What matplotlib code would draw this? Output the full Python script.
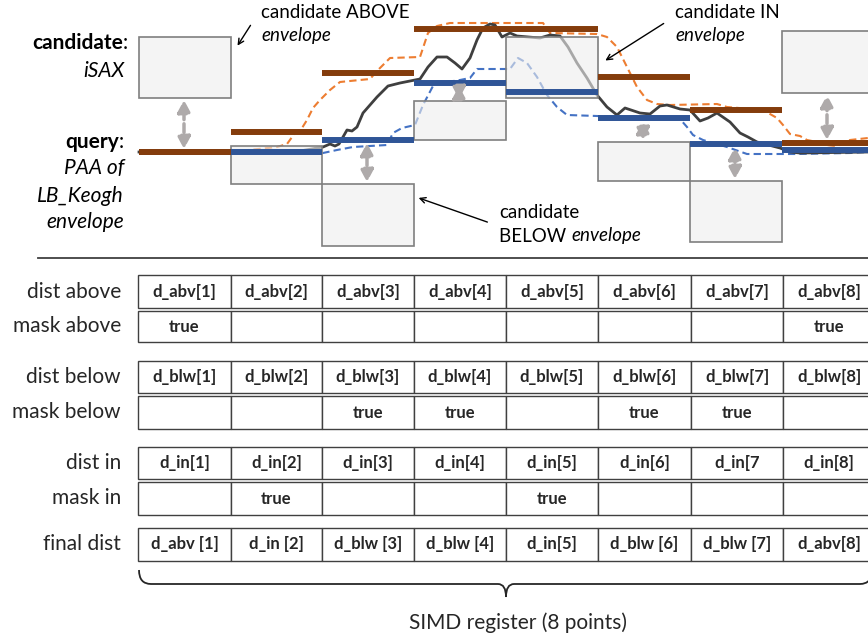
import numpy as np
import matplotlib.pyplot as plt
from matplotlib.patches import Rectangle, PathPatch
from matplotlib.path import Path

plt.rcParams['font.family'] = ['Lato', 'DejaVu Sans']

# --- top panel: 8 PAA segments (pixel-like units, y grows downward)
seg_edges = [139, 231, 322, 414, 506, 598, 690, 782, 874]
paa_upper = [152, 132, 73, 29, 29, 77, 110, 143]
paa_lower = [152, 152, 140, 83, 92, 118, 144, 150]
cand_top = [37, 146, 184, 101, 37, 142, 181, 31]
cand_bot = [98, 184, 246, 140, 98, 181, 242, 93]

series_x = [139, 300, 323, 330, 335, 339, 347, 352, 357, 363, 377, 388, 400, 420, 428, 437, 447,
            455, 462, 470, 477, 483, 490, 495, 502, 510, 517, 540, 550, 560, 568, 577, 587, 597,
            607, 617, 625, 640, 650, 660, 667, 680, 690, 700, 708, 717, 730, 740, 748, 757, 780,
            790, 800, 868]
series_y = [152, 151, 147, 144, 146, 144, 130, 131, 127, 113, 97, 86, 83, 79, 67, 57, 57,
            63, 69, 58, 40, 28, 24, 25, 37, 33, 36, 38, 35, 36, 47, 63, 78, 95,
            107, 115, 108, 113, 114, 106, 105, 109, 110, 121, 118, 113, 122, 133, 137, 142, 148,
            152, 153, 152]

upper_x = [139, 230, 277, 287, 295, 302, 307, 313, 320, 330, 340, 370, 377, 390, 420, 428, 437,
           450, 543, 550, 597, 607, 617, 627, 637, 647, 657, 670, 717, 727, 763, 777, 783, 790,
           800, 807, 817, 827, 837, 850, 868]
upper_y = [152, 152, 147, 144, 133, 128, 120, 108, 100, 90, 82, 79, 71, 58, 57, 33, 26,
           23, 23, 33, 34, 37, 47, 67, 87, 100, 104, 105, 104, 107, 110, 118, 125, 134,
           136, 140, 142, 145, 146, 140, 138]

lower_x = [139, 323, 337, 353, 387, 393, 402, 415, 423, 433, 440, 460, 470, 477, 510, 518, 527,
           537, 547, 557, 567, 597, 680, 687, 693, 703, 727, 747, 797, 850, 868]
lower_y = [153, 153, 150, 147, 145, 133, 128, 125, 105, 86, 83, 80, 78, 69, 69, 58, 63,
           77, 95, 107, 115, 116, 119, 127, 135, 140, 147, 154, 154, 153, 152]

# --- bottom table
col_edges = [138, 231, 322, 414, 506, 598, 691, 783, 875]
row_labels = ['dist above', 'mask above', 'dist below', 'mask below', 'dist in', 'mask in', 'final dist']
row_top = [275, 311, 361, 396, 447, 482, 528]
row_bot = [308, 342, 393, 429, 479, 515, 561]
cells = [
    ['d_abv[1]', 'd_abv[2]', 'd_abv[3]', 'd_abv[4]', 'd_abv[5]', 'd_abv[6]', 'd_abv[7]', 'd_abv[8]'],
    ['true', '', '', '', '', '', '', 'true'],
    ['d_blw[1]', 'd_blw[2]', 'd_blw[3]', 'd_blw[4]', 'd_blw[5]', 'd_blw[6]', 'd_blw[7]', 'd_blw[8]'],
    ['', '', 'true', 'true', '', 'true', 'true', ''],
    ['d_in[1]', 'd_in[2]', 'd_in[3]', 'd_in[4]', 'd_in[5]', 'd_in[6]', 'd_in[7', 'd_in[8]'],
    ['', 'true', '', '', 'true', '', '', ''],
    ['d_abv [1]', 'd_in [2]', 'd_blw [3]', 'd_blw [4]', 'd_in[5]', 'd_blw [6]', 'd_blw [7]', 'd_abv[8]'],
]

fig = plt.figure(figsize=(8.68, 6.36), dpi=100)
ax = fig.add_axes([0, 0, 1, 1])
ax.set_xlim(0, 868)
ax.set_ylim(636, 0)
ax.axis('off')

# envelopes and series
ax.plot(upper_x, upper_y, color='#ED7D31', lw=1.5, ls=(0, (3.5, 2)), zorder=1)
ax.plot(lower_x, lower_y, color='#4472C4', lw=1.5, ls=(0, (3.5, 2)), zorder=1)
ax.plot(series_x, series_y, color='#3F3F3F', lw=2.0, zorder=1)

# candidate boxes (semi transparent so lines show through)
for i in range(8):
    x0, x1 = seg_edges[i], seg_edges[i + 1]
    ax.add_patch(Rectangle((x0, cand_top[i]), x1 - x0, cand_bot[i] - cand_top[i],
                           facecolor=(0.93, 0.93, 0.93, 0.6), edgecolor='#7F7F7F', lw=1.2, zorder=2))

# PAA of the envelope
for i in range(8):
    x0, x1 = seg_edges[i], seg_edges[i + 1]
    ax.plot([x0, x1], [paa_lower[i], paa_lower[i]], color='#2F5597', lw=4.3,
            solid_capstyle='butt', zorder=3)
    ax.plot([x0, x1], [paa_upper[i], paa_upper[i]], color='#843C0C', lw=4.3,
            solid_capstyle='butt', zorder=3)

# gray distance arrows
for i in [0, 2, 3, 5, 6, 7]:
    xc = (seg_edges[i] + seg_edges[i + 1]) / 2 - 1
    if cand_bot[i] < paa_upper[i]:
        ya, yb = cand_bot[i] + 2, paa_upper[i] - 3
    else:
        ya, yb = paa_lower[i] + 3, cand_top[i] - 2
    ax.annotate('', xy=(xc, ya), xytext=(xc, yb),
                arrowprops=dict(arrowstyle='<|-|>,head_length=0.6,head_width=0.32',
                                color='#AEAAAA', lw=2.5, ls=(0, (2.5, 1.2)),
                                mutation_scale=12, shrinkA=0, shrinkB=0), zorder=4)

# labels on the left
fs_lab = 15
ax.text(123, 43, 'candidate', ha='right', va='center', fontsize=fs_lab, fontweight='bold')
ax.text(123, 43, ':', ha='left', va='center', fontsize=fs_lab)
ax.text(125, 71, 'iSAX', ha='right', va='center', fontsize=fs_lab, style='italic')
ax.text(119, 142, 'query', ha='right', va='center', fontsize=fs_lab, fontweight='bold')
ax.text(119, 142, ':', ha='left', va='center', fontsize=fs_lab)
ax.text(124, 168, 'PAA of', ha='right', va='center', fontsize=fs_lab, style='italic')
ax.text(124, 196, 'LB_Keogh', ha='right', va='center', fontsize=fs_lab, style='italic')
ax.text(124, 222, 'envelope', ha='right', va='center', fontsize=fs_lab, style='italic')

# callouts
fs_c = 13.5
ax.text(261, 12, 'candidate ABOVE', ha='left', va='center', fontsize=fs_c)
ax.text(261, 36, 'envelope', ha='left', va='center', fontsize=fs_c, style='italic')
ax.annotate('', xy=(236, 48), xytext=(252, 23),
            arrowprops=dict(arrowstyle='->', color='black', lw=1.0))
ax.text(675, 12, 'candidate IN', ha='left', va='center', fontsize=fs_c)
ax.text(675, 36, 'envelope', ha='left', va='center', fontsize=fs_c, style='italic')
ax.annotate('', xy=(603, 62), xytext=(666, 22),
            arrowprops=dict(arrowstyle='->', color='black', lw=1.0))
ax.text(499, 213, 'candidate', ha='left', va='center', fontsize=fs_c)
below = ax.text(499, 236, 'BELOW ', ha='left', va='center', fontsize=fs_c)
fig.canvas.draw()
bb = below.get_window_extent().transformed(ax.transData.inverted())
ax.text(bb.x1 + 1, 236, 'envelope', ha='left', va='center', fontsize=fs_c, style='italic')
ax.annotate('', xy=(416, 197), xytext=(490, 223),
            arrowprops=dict(arrowstyle='->', color='black', lw=1.0))

# separator
ax.plot([38, 868], [258, 258], color='#404040', lw=1.3)

# table
for r, lab in enumerate(row_labels):
    yc = (row_top[r] + row_bot[r]) / 2
    ax.text(121, yc, lab, ha='right', va='center', fontsize=15, color='#262626')
    for c in range(8):
        x0, x1 = col_edges[c], col_edges[c + 1]
        ax.add_patch(Rectangle((x0, row_top[r]), x1 - x0, row_bot[r] - row_top[r],
                               facecolor='white', edgecolor='#404040', lw=1.0))
        if cells[r][c]:
            ax.text((x0 + x1) / 2, yc, cells[r][c], ha='center', va='center',
                    fontsize=12, fontweight='bold', color='#262626')

# brace
bx0, bx1, bm = 139, 872, 506
verts = [(bx0, 570), (bx0, 584), (bx0 + 12, 584), (bm - 8, 584), (bm, 584), (bm, 597),
         (bm, 584), (bm + 8, 584), (bx1 - 12, 584), (bx1, 584), (bx1, 570)]
codes = [Path.MOVETO, Path.CURVE3, Path.CURVE3, Path.LINETO, Path.CURVE3, Path.CURVE3,
         Path.CURVE3, Path.CURVE3, Path.LINETO, Path.CURVE3, Path.CURVE3]
ax.add_patch(PathPatch(Path(verts, codes), facecolor='none', edgecolor='#262626', lw=1.3))
ax.text(518, 623, 'SIMD register (8 points)', ha='center', va='center', fontsize=15, color='#262626')

fig.savefig('out.png', dpi=100)
